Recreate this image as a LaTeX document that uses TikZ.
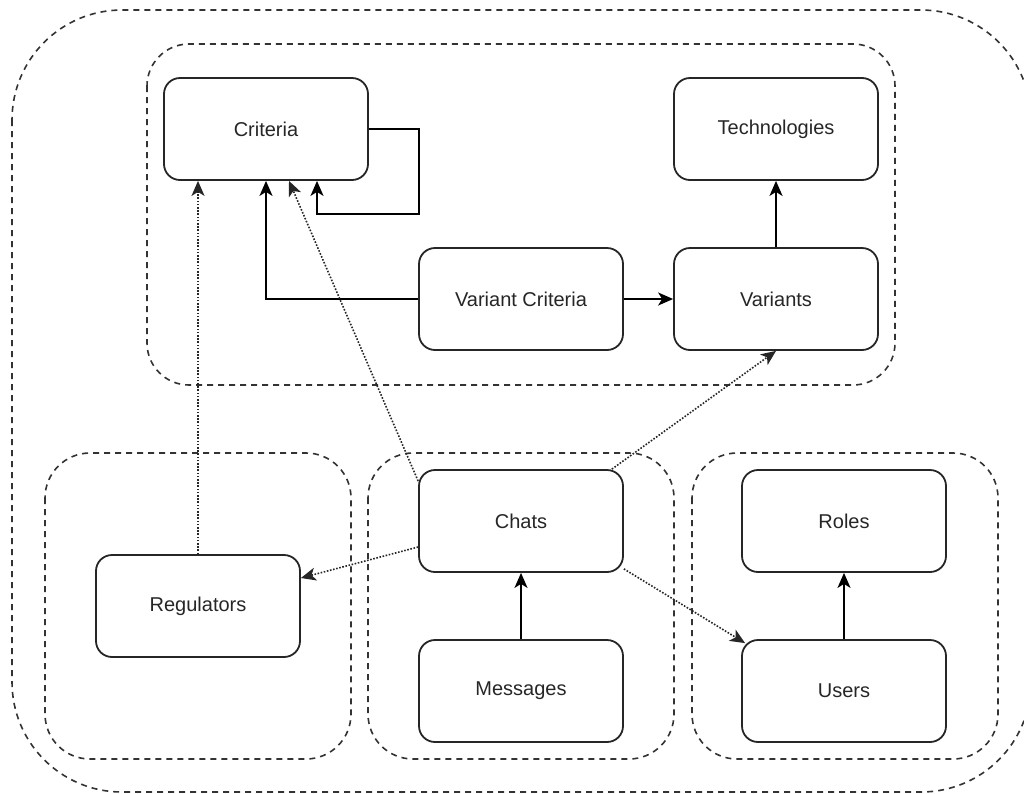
\documentclass[tikz,border=0pt]{standalone}
\usepackage{fontspec}
\setmainfont{Liberation Sans}
\usetikzlibrary{arrows.meta,calc}
\begin{document}
\begin{tikzpicture}[x=1pt,y=-1pt,
  entity/.style={draw=black!85, line width=1.8pt, rounded corners=16pt,
    minimum width=204pt, minimum height=102pt, inner sep=0pt,
    font=\fontsize{20}{24}\selectfont, text=black!85},
  group/.style={draw=black!80, line width=1.6pt, dash pattern=on 6pt off 5pt},
  tip/.style={-{Stealth[length=15pt,width=13pt,inset=4pt]}},
  link/.style={tip, draw=black, line width=1.8pt},
  ref/.style={tip, draw=black!85, line width=1.6pt, dash pattern=on 1.6pt off 1.6pt}
]
\useasboundingbox (0,0) rectangle (1024,793);

% package boundaries
\draw[group, rounded corners=110pt] (12,10) rectangle (1031,792);
\draw[group, rounded corners=42pt] (147,44) rectangle (895,385);
\draw[group, rounded corners=45pt] (45,453) rectangle (351,759);
\draw[group, rounded corners=45pt] (368,453) rectangle (674,759);
\draw[group, rounded corners=45pt] (692,453) rectangle (998,759);

% entities
\node[entity] (criteria)   at (266,129) {Criteria};
\node[entity] (tech)       at (776,129) {Technologies};
\node[entity] (vcrit)      at (521,299) {Variant Criteria};
\node[entity] (variants)   at (776,299) {Variants};
\node[entity] (chats)      at (521,521) {Chats};
\node[entity] (messages)   at (521,691) {Messages};
\node[entity] (regulators) at (198,606) {Regulators};
\node[entity] (roles)      at (844,521) {Roles};
\node[entity] (users)      at (844,691) {Users};

% solid references
\draw[link] (criteria.east) -| ($(criteria.south east)+(50,33)$) -| ($(criteria.south)+(51,0)$);
\draw[link] (vcrit.west) -| (criteria.south);
\draw[link] (vcrit) -- (variants);
\draw[link] (variants) -- (tech);
\draw[link] (messages) -- (chats);
\draw[link] (users) -- (roles);

% dotted references
\draw[ref] (regulators.north) -- (regulators.north |- criteria.south);
\draw[ref] ($(chats.west)+(0,-40)$) -- ($(criteria.south)+(23,0)$);
\draw[ref] ($(chats.north east)+(-12,0)$) -- (variants.south);
\draw[ref] ($(chats.west)+(0,26)$) -- ($(regulators.east)+(0,-28)$);
\draw[ref] ($(chats.south east)+(0,-4)$) -- ($(users.north west)+(4,4)$);
\end{tikzpicture}
\end{document}
